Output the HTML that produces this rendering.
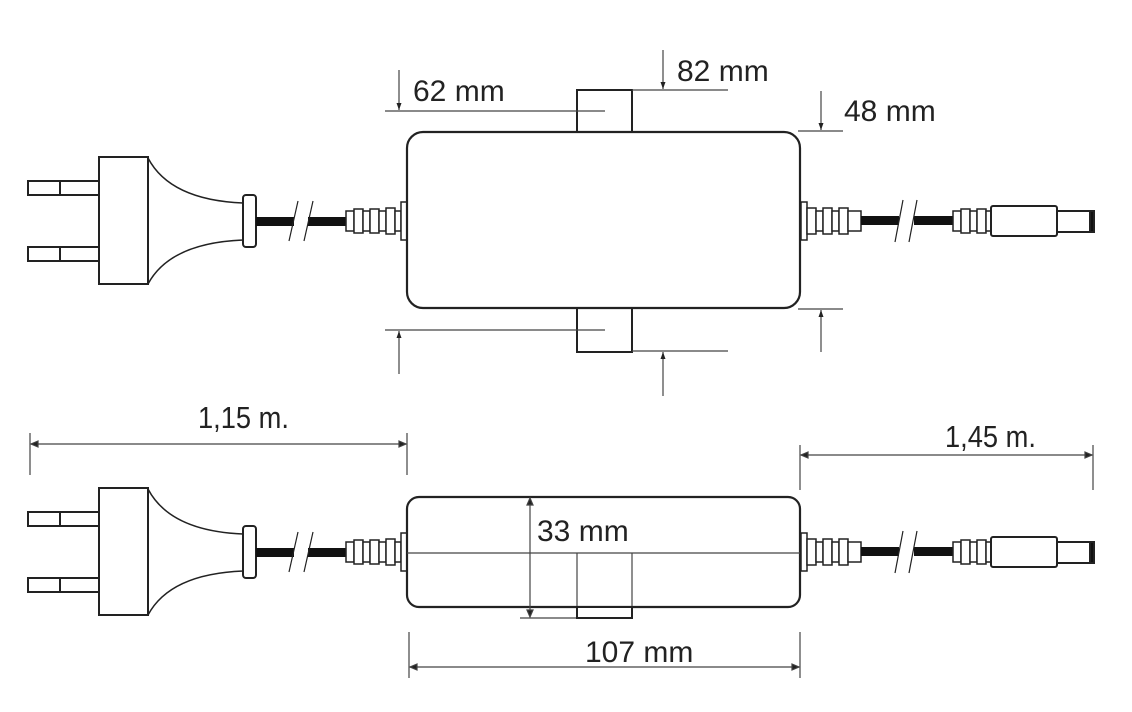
<!DOCTYPE html>
<html><head><meta charset="utf-8"><style>
html,body{margin:0;padding:0;background:#fff;}
svg{display:block;}
text{font-family:"Liberation Sans",sans-serif;fill:#222;}
</style></head><body>
<svg width="1132" height="712" viewBox="0 0 1132 712" xmlns="http://www.w3.org/2000/svg">
<defs>
<marker id="ar" markerWidth="8" markerHeight="8" refX="7" refY="4" orient="auto" markerUnits="userSpaceOnUse">
<path d="M0,1.5 L7,4 L0,6.5 z" fill="#222"/></marker>
<g id="asm" stroke="#222" fill="#fff" stroke-width="2">
  <rect x="28" y="181" width="71" height="14"/>
  <line x1="60" y1="181" x2="60" y2="195"/>
  <rect x="28" y="247" width="71" height="14"/>
  <line x1="60" y1="247" x2="60" y2="261"/>
  <path d="M148,158 Q170,200 243,203 L243,240 Q170,243 148,284 Z" stroke-width="1.5"/>
  <rect x="99" y="157" width="49" height="127"/>
  <rect x="243" y="195" width="13" height="52" rx="3"/>
  <rect x="256" y="217" width="38" height="9" fill="#111" stroke="none"/>
  <rect x="308" y="217" width="38" height="9" fill="#111" stroke="none"/>
  <line x1="289" y1="241" x2="298" y2="201" stroke-width="1.2"/>
  <line x1="304" y1="241" x2="313" y2="201" stroke-width="1.2"/>
  <g stroke-width="1.5">
  <rect x="346" y="211" width="8" height="20"/>
  <rect x="354" y="209" width="9" height="24"/>
  <rect x="363" y="211" width="7" height="20"/>
  <rect x="370" y="209" width="9" height="24"/>
  <rect x="379" y="211" width="7" height="20"/>
  <rect x="386" y="208" width="9" height="26"/>
  <rect x="395" y="211" width="6" height="20"/>
  <rect x="401" y="202" width="6" height="38"/>
  </g>
  <g stroke-width="1.5">
  <rect x="801" y="202" width="6" height="38"/>
  <rect x="807" y="208" width="9" height="26"/>
  <rect x="816" y="211" width="7" height="20"/>
  <rect x="823" y="208" width="9" height="26"/>
  <rect x="832" y="211" width="7" height="20"/>
  <rect x="839" y="208" width="9" height="26"/>
  <rect x="848" y="211" width="13" height="20"/>
  </g>
  <rect x="861" y="216" width="38" height="9" fill="#111" stroke="none"/>
  <rect x="914" y="216" width="39" height="9" fill="#111" stroke="none"/>
  <line x1="895" y1="242" x2="903" y2="200" stroke-width="1.2"/>
  <line x1="909" y1="242" x2="917" y2="200" stroke-width="1.2"/>
  <g stroke-width="1.5">
  <rect x="953" y="211" width="8" height="20"/>
  <rect x="961" y="209" width="9" height="24"/>
  <rect x="970" y="211" width="7" height="20"/>
  <rect x="977" y="209" width="9" height="24"/>
  <rect x="986" y="211" width="5" height="20"/>
  </g>
  <rect x="991" y="206" width="66" height="30" rx="2"/>
  <rect x="1057" y="211" width="35" height="21"/>
  <rect x="1090" y="211" width="4" height="21" fill="#111"/>
</g>
</defs>

<use href="#asm"/>
<rect x="577" y="90" width="55" height="44" fill="#fff" stroke="#222" stroke-width="2"/>
<rect x="577" y="306" width="55" height="46" fill="#fff" stroke="#222" stroke-width="2"/>
<rect x="407" y="132" width="393" height="176" rx="16" fill="#fff" stroke="#222" stroke-width="2.2"/>

<g stroke="#444" stroke-width="1.2">
  <line x1="385" y1="111" x2="605" y2="111"/>
  <line x1="399" y1="70" x2="399" y2="110" marker-end="url(#ar)"/>
  <line x1="632" y1="90" x2="728" y2="90"/>
  <line x1="663" y1="50" x2="663" y2="89" marker-end="url(#ar)"/>
  <line x1="798" y1="131" x2="843" y2="131"/>
  <line x1="821" y1="91" x2="821" y2="130" marker-end="url(#ar)"/>
  <line x1="385" y1="330" x2="605" y2="330"/>
  <line x1="399" y1="374" x2="399" y2="331" marker-end="url(#ar)"/>
  <line x1="632" y1="351" x2="728" y2="351"/>
  <line x1="663" y1="396" x2="663" y2="352" marker-end="url(#ar)"/>
  <line x1="798" y1="309" x2="843" y2="309"/>
  <line x1="821" y1="352" x2="821" y2="310" marker-end="url(#ar)"/>
</g>
<text x="413" y="101" font-size="30">62 mm</text>
<text x="677" y="81" font-size="30">82 mm</text>
<text x="844" y="121" font-size="30">48 mm</text>

<use href="#asm" y="331"/>
<rect x="407" y="497" width="393" height="110" rx="12" fill="#fff" stroke="#222" stroke-width="2.2"/>
<g stroke="#444" stroke-width="1.2">
  <line x1="407" y1="553" x2="800" y2="553"/>
  <line x1="577" y1="553" x2="577" y2="607"/>
  <line x1="632" y1="553" x2="632" y2="607"/>
  <line x1="520" y1="618" x2="577" y2="618"/>
  <line x1="530" y1="505" x2="530" y2="610"/>
  <path d="M527,505 L530,498 L533,505 Z M527,610 L530,617 L533,610 Z" fill="#222"/>
</g>
<rect x="577" y="607" width="55" height="11" fill="#fff" stroke="#222" stroke-width="2"/>
<text x="537" y="541" font-size="30">33 mm</text>

<g stroke="#444" stroke-width="1.2">
  <line x1="409" y1="632" x2="409" y2="678"/>
  <line x1="800" y1="632" x2="800" y2="678"/>
  <line x1="410" y1="667" x2="799" y2="667"/>
  <path d="M417,664 L410,667 L417,670 Z M792,664 L799,667 L792,670 Z" fill="#222"/>
  <line x1="30" y1="433" x2="30" y2="475"/>
  <line x1="407" y1="433" x2="407" y2="475"/>
  <line x1="31" y1="444" x2="406" y2="444"/>
  <path d="M38,441 L31,444 L38,447 Z M399,441 L406,444 L399,447 Z" fill="#222"/>
  <line x1="800" y1="445" x2="800" y2="490"/>
  <line x1="1093" y1="445" x2="1093" y2="490"/>
  <line x1="801" y1="455" x2="1092" y2="455"/>
  <path d="M808,452 L801,455 L808,458 Z M1085,452 L1092,455 L1085,458 Z" fill="#222"/>
</g>
<text x="585" y="662" font-size="30">107 mm</text>
<text x="198" y="428" font-size="31" transform="translate(198 0) scale(0.88 1) translate(-198 0)">1,15 m.</text>
<text x="945" y="447" font-size="31" transform="translate(945 0) scale(0.88 1) translate(-945 0)">1,45 m.</text>
</svg>
</body></html>
